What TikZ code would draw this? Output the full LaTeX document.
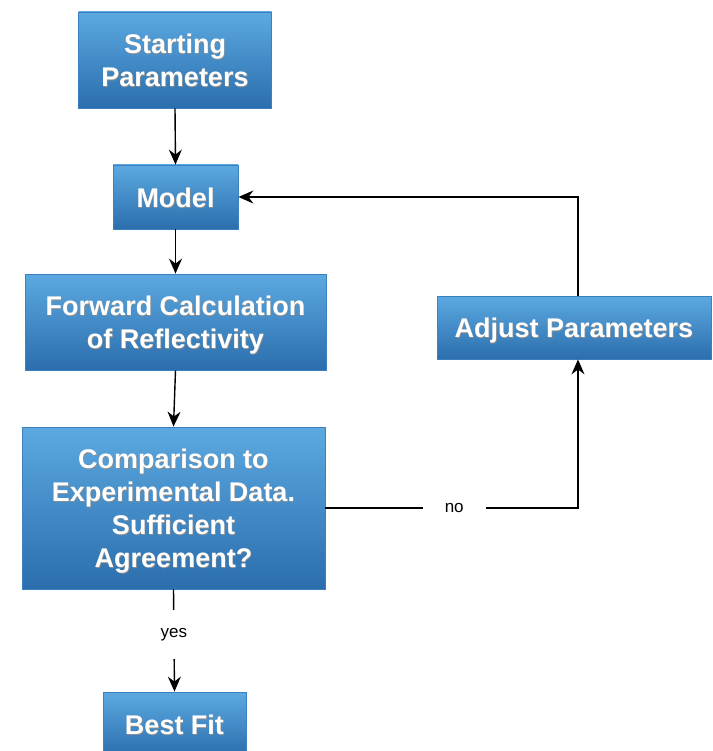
\documentclass[tikz,border=0pt]{standalone}
\usepackage{fontspec}
\setmainfont{Liberation Sans}
\usetikzlibrary{arrows.meta}
\definecolor{boxtop}{HTML}{5CA9E1}
\definecolor{boxbot}{HTML}{2B6EAD}
\definecolor{boxline}{HTML}{3D80BF}
\newcommand\shd[1]{\leavevmode\rlap{\hspace{0.6pt}\raisebox{-1.3pt}{\textcolor{black!45}{#1}}}#1}
\newcommand\boxtxt[1]{\raisebox{-3.5pt}[\height][\depth]{\renewcommand\arraystretch{1}\begin{tabular}{@{}c@{}}#1\end{tabular}}}
\tikzset{
  flowbox/.style={rectangle, draw=boxline, line width=0.8pt, top color=boxtop, bottom color=boxbot,
    text=white, inner sep=0pt,
    font=\fontsize{27}{33}\selectfont\bfseries},
  conn/.style={line width=1.4pt, black, -{Stealth[length=15pt,width=13pt,inset=5pt]}},
  lbl/.style={fill=white, text=black, font=\fontsize{17}{20}\selectfont, inner sep=0pt}
}
\begin{document}
\begin{tikzpicture}[x=1pt,y=-1pt]
\clip (0,0) rectangle (712,751);
\fill[white] (0,0) rectangle (712,751);
\node[flowbox, minimum width=193pt, minimum height=96pt] (start) at (175,60) {\boxtxt{\shd{Starting}\\\shd{Parameters}}};
\node[flowbox, minimum width=125pt, minimum height=64pt] (model) at (175.5,197) {\boxtxt{\shd{Model}}};
\node[flowbox, minimum width=301pt, minimum height=96pt] (fwd) at (175.5,322) {\boxtxt{\shd{Forward Calculation}\\\shd{of Reflectivity}}};
\node[flowbox, minimum width=274pt, minimum height=63pt] (adj) at (574,327.5) {\boxtxt{\shd{Adjust Parameters}}};
\node[flowbox, minimum width=303pt, minimum height=162pt] (comp) at (173.5,508) {\boxtxt{\shd{Comparison to}\\\shd{Experimental Data.}\\\shd{Sufficient}\\\shd{Agreement?}}};
\node[flowbox, minimum width=143pt, minimum height=64pt] (best) at (174.5,724) {\boxtxt{\shd{Best Fit}}};
\coordinate (adjin) at ([xshift=4pt]adj.south);
\coordinate (adjout) at ([xshift=4pt]adj.north);
\draw[conn] (start.south) -- (model.north);
\draw[conn] (model.south) -- (fwd.north);
\draw[conn] (fwd.south) -- (comp.north);
\draw[conn] (comp.east) -| node[lbl, pos=0.255, inner xsep=22pt, inner ysep=4pt] (no) {no} (adjin);
\draw[conn] (adjout) |- (model.east);
\draw[conn] (comp.south) -- node[lbl, pos=0.44, inner ysep=18pt, inner xsep=4pt] (yes) {yes} (best.north);
\end{tikzpicture}
\end{document}
